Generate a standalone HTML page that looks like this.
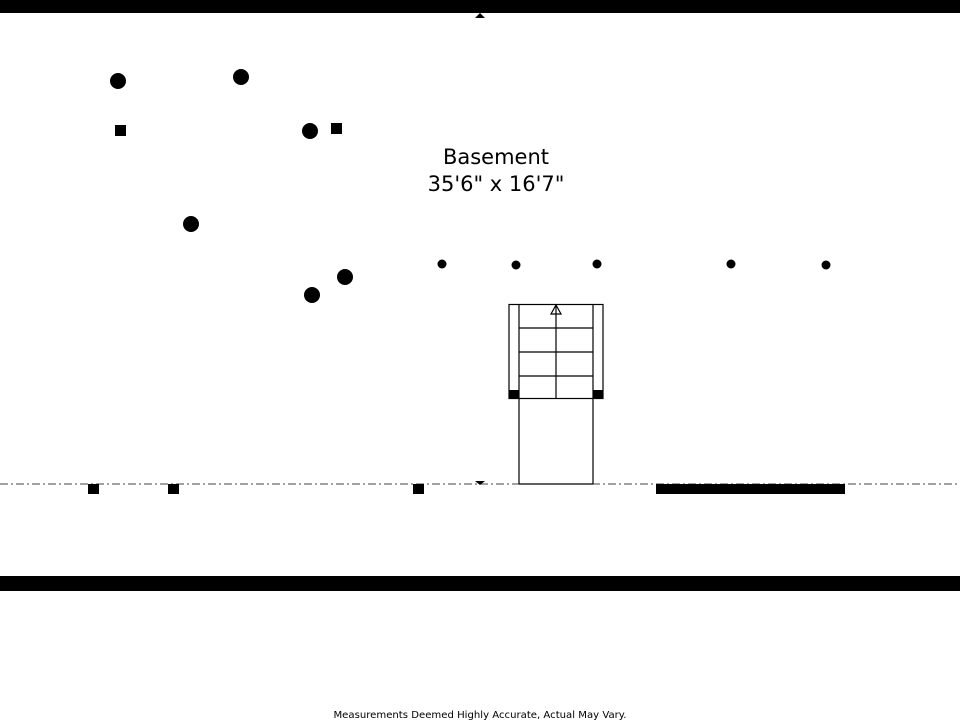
<!DOCTYPE html>
<html><head><style>body{margin:0;background:#fff}svg{display:block}</style></head><body>
<svg width="960" height="720" viewBox="0 0 960 720" xmlns="http://www.w3.org/2000/svg">
<rect x="0" y="0" width="960" height="13" fill="#000"/>
<path d="M475 13 L485 13 L480 18Z" fill="#000" transform="rotate(180 480 15.5)"/>
<rect x="0" y="576" width="960" height="15" fill="#000"/>
<line x1="0" y1="484" x2="960" y2="484" stroke="#444" stroke-width="1" stroke-dasharray="8,3,2,3"/>
<path d="M475 481 L485 481 L480 485Z" fill="#000"/>
<rect x="656" y="484" width="189" height="10" fill="#000"/>
<rect x="88" y="484" width="11" height="10" fill="#000"/>
<rect x="168" y="484" width="11" height="10" fill="#000"/>
<rect x="413" y="484" width="11" height="10" fill="#000"/>
<g fill="#000">
<circle cx="118" cy="81" r="8"/><circle cx="241" cy="77" r="8"/><circle cx="310" cy="131" r="8"/>
<circle cx="191" cy="224" r="8"/><circle cx="345" cy="277" r="8"/><circle cx="312" cy="295" r="8"/>
<rect x="115" y="125" width="11" height="11"/><rect x="331" y="123" width="11" height="11"/>
<circle cx="442" cy="264" r="4.5"/><circle cx="516" cy="265" r="4.5"/><circle cx="597" cy="264" r="4.5"/>
<circle cx="731" cy="264" r="4.5"/><circle cx="826" cy="265" r="4.5"/>
</g>
<g stroke="#000" stroke-width="1.2" fill="none">
<rect x="509" y="304.5" width="94" height="94"/>
<line x1="519" y1="304" x2="519" y2="484"/><line x1="593" y1="304" x2="593" y2="484"/>
<line x1="519" y1="328" x2="593" y2="328"/><line x1="519" y1="352" x2="593" y2="352"/><line x1="519" y1="376" x2="593" y2="376"/>
<line x1="519" y1="484" x2="593" y2="484"/>
<line x1="556" y1="305" x2="556" y2="399"/>
<path d="M551 314 L556 305 L561 314Z"/>
</g>
<rect x="509" y="390" width="10" height="9" fill="#000"/>
<rect x="593" y="390" width="10" height="9" fill="#000"/>
<text x="496" y="164" font-family="DejaVu Sans, Liberation Sans, sans-serif" font-size="21" text-anchor="middle">Basement</text>
<text x="496" y="191" font-family="DejaVu Sans, Liberation Sans, sans-serif" font-size="21" text-anchor="middle">35'6" x 16'7"</text>
<text x="480" y="718" font-family="DejaVu Sans, Liberation Sans, sans-serif" font-size="10.1" text-anchor="middle">Measurements Deemed Highly Accurate, Actual May Vary.</text>
</svg>
</body></html>
